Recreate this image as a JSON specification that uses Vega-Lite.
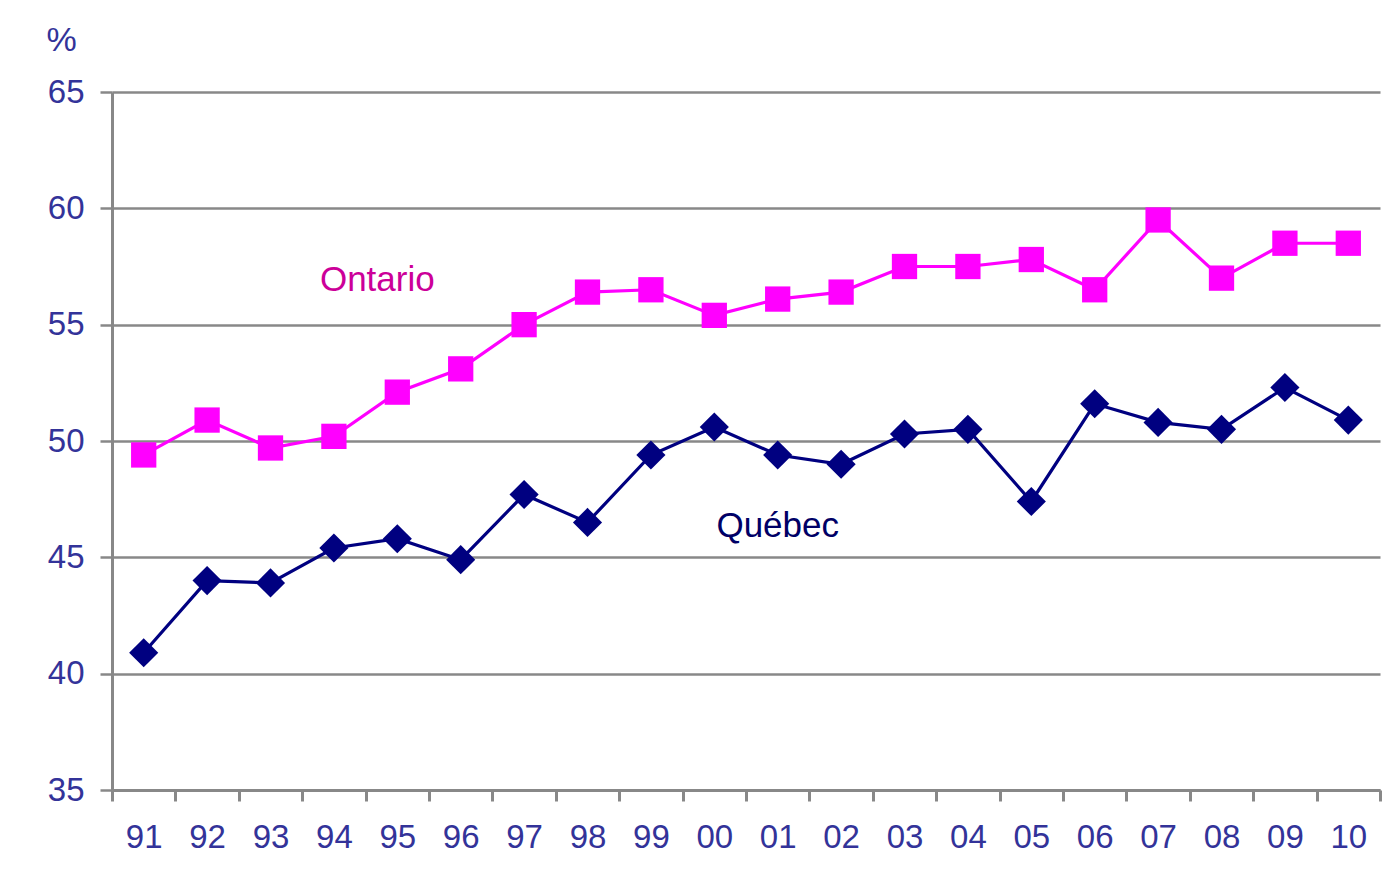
{
  "$schema": "https://vega.github.io/schema/vega-lite/v6.json",
  "width": 1268,
  "height": 698,
  "autosize": {"type": "none"},
  "padding": {"left": 112, "top": 92, "right": 17, "bottom": 106},
  "background": "white",
  "config": {
    "view": {"stroke": null},
    "font": "Liberation Sans",
    "axis": {"labelFont": "Liberation Sans", "titleFont": "Liberation Sans"}
  },
  "datasets": {
    "series": [
      {"year": "91", "region": "Ontario", "value": 49.4},
      {"year": "92", "region": "Ontario", "value": 50.9},
      {"year": "93", "region": "Ontario", "value": 49.7},
      {"year": "94", "region": "Ontario", "value": 50.2},
      {"year": "95", "region": "Ontario", "value": 52.1},
      {"year": "96", "region": "Ontario", "value": 53.1},
      {"year": "97", "region": "Ontario", "value": 55.0},
      {"year": "98", "region": "Ontario", "value": 56.4},
      {"year": "99", "region": "Ontario", "value": 56.5},
      {"year": "00", "region": "Ontario", "value": 55.4},
      {"year": "01", "region": "Ontario", "value": 56.1},
      {"year": "02", "region": "Ontario", "value": 56.4},
      {"year": "03", "region": "Ontario", "value": 57.5},
      {"year": "04", "region": "Ontario", "value": 57.5},
      {"year": "05", "region": "Ontario", "value": 57.8},
      {"year": "06", "region": "Ontario", "value": 56.5},
      {"year": "07", "region": "Ontario", "value": 59.5},
      {"year": "08", "region": "Ontario", "value": 57.0},
      {"year": "09", "region": "Ontario", "value": 58.5},
      {"year": "10", "region": "Ontario", "value": 58.5},
      {"year": "91", "region": "Québec", "value": 40.9},
      {"year": "92", "region": "Québec", "value": 44.0},
      {"year": "93", "region": "Québec", "value": 43.9},
      {"year": "94", "region": "Québec", "value": 45.4},
      {"year": "95", "region": "Québec", "value": 45.8},
      {"year": "96", "region": "Québec", "value": 44.9},
      {"year": "97", "region": "Québec", "value": 47.7},
      {"year": "98", "region": "Québec", "value": 46.5},
      {"year": "99", "region": "Québec", "value": 49.4},
      {"year": "00", "region": "Québec", "value": 50.6},
      {"year": "01", "region": "Québec", "value": 49.4},
      {"year": "02", "region": "Québec", "value": 49.0},
      {"year": "03", "region": "Québec", "value": 50.3},
      {"year": "04", "region": "Québec", "value": 50.5},
      {"year": "05", "region": "Québec", "value": 47.4},
      {"year": "06", "region": "Québec", "value": 51.6},
      {"year": "07", "region": "Québec", "value": 50.8},
      {"year": "08", "region": "Québec", "value": 50.5},
      {"year": "09", "region": "Québec", "value": 52.3},
      {"year": "10", "region": "Québec", "value": 50.9}
    ],
    "labels": [
      {"year": "95", "region": "Ontario", "value": 56.9, "label": "Ontario"},
      {"year": "01", "region": "Québec", "value": 46.35, "label": "Québec"}
    ]
  },
  "encoding": {
    "x": {
      "field": "year",
      "type": "ordinal",
      "sort": null,
      "scale": {
        "domain": ["91","92","93","94","95","96","97","98","99","00","01","02","03","04","05","06","07","08","09","10"],
        "paddingInner": 0,
        "paddingOuter": 0
      },
      "axis": {
        "title": null,
        "labelAngle": 0,
        "tickBand": "extent",
        "tickSize": 11,
        "tickWidth": 3,
        "tickColor": "#888888",
        "domainColor": "#888888",
        "domainWidth": 3,
        "labelColor": "#333399",
        "labelFontSize": 33,
        "labelPadding": 20,
        "grid": false
      }
    },
    "y": {
      "field": "value",
      "type": "quantitative",
      "scale": {"domain": [35, 65], "nice": false, "zero": false},
      "axis": {
        "values": [35, 40, 45, 50, 55, 60, 65],
        "title": "%",
        "titleAngle": 0,
        "titleAlign": "left",
        "titleBaseline": "alphabetic",
        "titleX": -66,
        "titleY": -42,
        "titleColor": "#333399",
        "titleFontSize": 34,
        "titleFontWeight": "normal",
        "grid": true,
        "gridColor": "#888888",
        "gridWidth": 2.5,
        "gridOpacity": 1,
        "tickSize": 12,
        "tickWidth": 2.5,
        "tickColor": "#888888",
        "domainColor": "#888888",
        "domainWidth": 3,
        "labelColor": "#333399",
        "labelFontSize": 33,
        "labelPadding": 16
      }
    }
  },
  "layer": [
    {
      "data": {"name": "series"},
      "mark": {"type": "line", "strokeWidth": 3.2},
      "encoding": {
        "color": {
          "field": "region",
          "type": "nominal",
          "scale": {"domain": ["Ontario", "Québec"], "range": ["#FF00FF", "#000080"]},
          "legend": null
        }
      }
    },
    {
      "data": {"name": "series"},
      "mark": {"type": "point", "filled": true, "opacity": 1},
      "encoding": {
        "color": {
          "field": "region",
          "type": "nominal",
          "scale": {"domain": ["Ontario", "Québec"], "range": ["#FF00FF", "#000080"]},
          "legend": null
        },
        "shape": {
          "field": "region",
          "type": "nominal",
          "scale": {"domain": ["Ontario", "Québec"], "range": ["square", "diamond"]},
          "legend": null
        },
        "size": {
          "field": "region",
          "type": "nominal",
          "scale": {"domain": ["Ontario", "Québec"], "range": [640, 850]},
          "legend": null
        }
      }
    },
    {
      "data": {"name": "labels"},
      "transform": [{"filter": "datum.region == 'Ontario'"}],
      "mark": {"type": "text", "fontSize": 35, "dx": -20, "baseline": "middle", "align": "center", "color": "#CC0099"},
      "encoding": {
        "text": {"field": "label"}
      }
    },
    {
      "data": {"name": "labels"},
      "transform": [{"filter": "datum.region == 'Québec'"}],
      "mark": {"type": "text", "fontSize": 35, "baseline": "middle", "align": "center", "color": "#000066"},
      "encoding": {
        "text": {"field": "label"}
      }
    }
  ]
}
